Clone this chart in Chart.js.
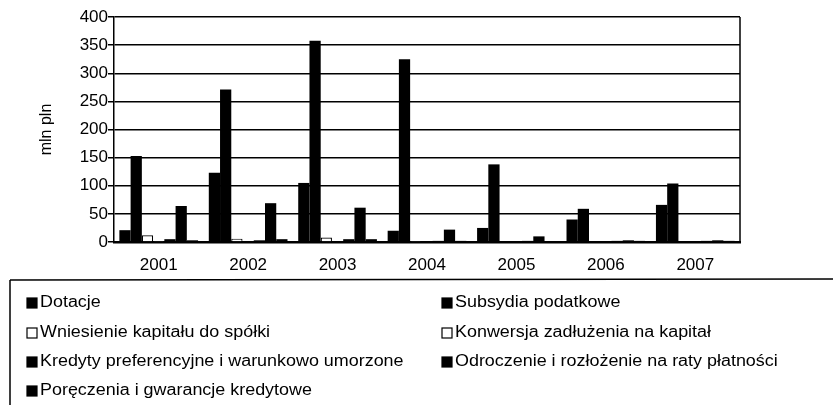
<!DOCTYPE html>
<html>
<head>
<meta charset="utf-8">
<script src="https://cdn.jsdelivr.net/npm/chart.js"></script>
<style>
  html, body { margin: 0; padding: 0; background: #fff; }
  #wrap { width: 833px; height: 405px; }
</style>
</head>
<body>
<div id="wrap"><canvas id="chart" width="833" height="405"></canvas></div>
<script>
// Data (mln pln)
const years = ['2001', '2002', '2003', '2004', '2005', '2006', '2007'];
const seriesNames = [
  'Dotacje',
  'Subsydia podatkowe',
  'Wniesienie kapitału do spółki',
  'Konwersja zadłużenia na kapitał',
  'Kredyty preferencyjne i warunkowo umorzone',
  'Odroczenie i rozłożenie na raty płatności',
  'Poręczenia i gwarancje kredytowe'
];
const dotacje     = [21, 123, 105, 20, 25, 40, 66];
const subsydia    = [153, 271, 358, 325, 138, 59, 104];
const wniesienie  = [12, 6, 8, 2, 1, 1, 1];
const konwersja   = [2, 1, 1, 1, 1, 1, 1];
const kredyty     = [5, 3, 5, 2, 2, 2, 2];
const odroczenie  = [64, 69, 61, 22, 10, 3, 3];
const poreczenia  = [3, 5, 5, 2, 1, 2, 2];
const yTicks = [0, 50, 100, 150, 200, 250, 300, 350, 400];

const seriesValues = [dotacje, subsydia, wniesienie, konwersja, kredyty, odroczenie, poreczenia];
const seriesFill = ['#000', '#000', '#fff', '#fff', '#000', '#000', '#000'];

const FONT = 'Liberation Sans, Arial, sans-serif';

// legend drawn by hand so it sits in two fixed columns like the original
const boxLegend = {
  id: 'boxLegend',
  afterDraw(chart) {
    const ctx = chart.ctx;
    ctx.save();
    // frame: top line and left edge
    ctx.strokeStyle = '#000';
    ctx.lineWidth = 1.5;
    ctx.beginPath();
    ctx.moveTo(10, 280);
    ctx.lineTo(833, 279);
    ctx.moveTo(10, 280);
    ctx.lineTo(10, 405);
    ctx.stroke();

    const cols = [27, 442];
    const rows = [303, 333, 362, 391];
    const stretch = 1.12; // the scanned text is a bit wider than Liberation Sans
    ctx.font = '16px ' + FONT;
    ctx.textBaseline = 'middle';
    chart.data.datasets.forEach((ds, i) => {
      const x = cols[i % 2];
      const y = rows[Math.floor(i / 2)];
      ctx.fillStyle = ds.backgroundColor;
      ctx.fillRect(x, y - 5, 10, 10);
      ctx.strokeStyle = '#000';
      ctx.lineWidth = 1.2;
      ctx.strokeRect(x, y - 5, 10, 10);
      ctx.save();
      ctx.scale(stretch, 1);
      ctx.fillStyle = '#000';
      ctx.fillText(ds.label, (x + 13) / stretch, y);
      ctx.restore();
    });
    ctx.restore();
  }
};

// right wall of the plot
const rightWall = {
  id: 'rightWall',
  afterDatasetsDraw(chart) {
    const a = chart.chartArea;
    const ctx = chart.ctx;
    ctx.save();
    ctx.strokeStyle = '#000';
    ctx.lineWidth = 1.5;
    ctx.beginPath();
    ctx.moveTo(a.right, a.top);
    ctx.lineTo(a.right, a.bottom);
    ctx.stroke();
    ctx.restore();
  }
};

new Chart(document.getElementById('chart'), {
  type: 'bar',
  data: {
    labels: years,
    datasets: seriesNames.map((name, i) => ({
      label: name,
      data: seriesValues[i],
      backgroundColor: seriesFill[i],
      borderColor: '#000',
      borderWidth: seriesFill[i] === '#fff' ? 1.2 : 0,
      barPercentage: 1,
      categoryPercentage: 0.88
    }))
  },
  options: {
    responsive: false,
    animation: false,
    layout: { padding: { top: 17, right: 93, bottom: 127, left: 0 } },
    plugins: {
      legend: { display: false },
      tooltip: { enabled: false }
    },
    scales: {
      x: {
        grid: { display: false, drawTicks: false },
        border: { color: '#000', width: 2.5 },
        ticks: { color: '#000', font: { family: FONT, size: 17 }, padding: 13 },
        afterFit: s => { s.height = 36; }
      },
      y: {
        min: 0,
        max: 400,
        afterBuildTicks: s => { s.ticks = yTicks.map(v => ({ value: v })); },
        grid: { color: '#000', lineWidth: 1.5, tickLength: 6 },
        border: { color: '#000', width: 1.5 },
        ticks: { color: '#000', font: { family: FONT, size: 17 }, padding: 0 },
        title: {
          display: true,
          text: 'mln pln',
          color: '#000',
          font: { family: FONT, size: 16 },
          padding: { top: 37, bottom: 0 }
        },
        afterFit: s => { s.width = 114; }
      }
    }
  },
  plugins: [boxLegend, rightWall]
});
</script>
</body>
</html>
